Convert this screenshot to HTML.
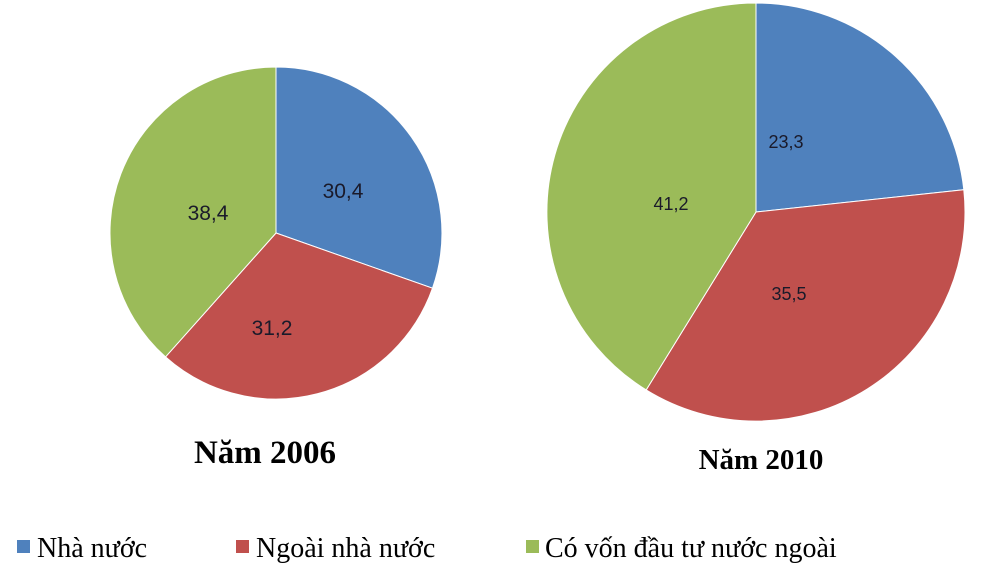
<!DOCTYPE html>
<html><head><meta charset="utf-8"><style>
body{margin:0;background:#fff;width:990px;height:580px;overflow:hidden}
svg{display:block}
</style></head><body>
<svg width="990" height="580" xmlns="http://www.w3.org/2000/svg">
<g stroke="#fff" stroke-width="1">
<path d="M276,233 L276,67 A166,166 0 0 1 432.5,288.2 Z" fill="#4F81BD"/>
<path d="M276,233 L432.5,288.2 A166,166 0 0 1 165.5,356.9 Z" fill="#C0504D"/>
<path d="M276,233 L165.5,356.9 A166,166 0 0 1 276,67 Z" fill="#9BBB59"/>
<path d="M756,212 L756,3 A209,209 0 0 1 963.8,189.7 Z" fill="#4F81BD"/>
<path d="M756,212 L963.8,189.7 A209,209 0 0 1 646.2,389.9 Z" fill="#C0504D"/>
<path d="M756,212 L646.2,389.9 A209,209 0 0 1 756,3 Z" fill="#9BBB59"/>
</g>
<g font-family="Liberation Sans, sans-serif" fill="#1a1a2a" text-anchor="middle">
<text x="343" y="198" font-size="21">30,4</text>
<text x="272" y="335" font-size="21">31,2</text>
<text x="208" y="220" font-size="21">38,4</text>
<text x="786" y="148" font-size="18">23,3</text>
<text x="789" y="300" font-size="18">35,5</text>
<text x="671" y="210" font-size="18">41,2</text>
</g>
<g font-family="Liberation Serif, serif" font-weight="bold" text-anchor="middle" fill="#000">
<text x="265" y="463" font-size="33">Năm 2006</text>
<text x="761" y="469" font-size="29">Năm 2010</text>
</g>
<g font-family="Liberation Serif, serif" font-size="28" fill="#000">
<rect x="17" y="540" width="13" height="13" fill="#4F81BD"/>
<text x="37" y="557">Nhà nước</text>
<rect x="236" y="540" width="13" height="13" fill="#C0504D"/>
<text x="256" y="557">Ngoài nhà nước</text>
<rect x="526" y="540" width="13" height="13" fill="#9BBB59"/>
<text x="545" y="557">Có vốn đầu tư nước ngoài</text>
</g>
</svg>
</body></html>
